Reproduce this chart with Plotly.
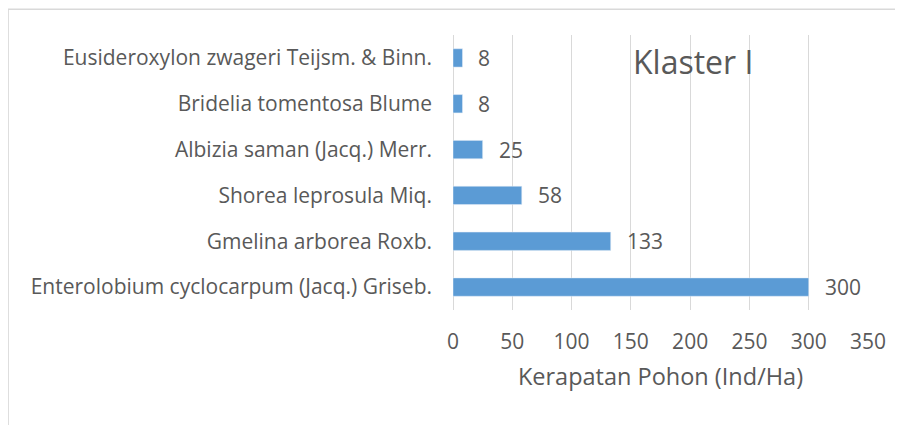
import plotly.graph_objects as go

species = [
    "Enterolobium cyclocarpum (Jacq.) Griseb.",
    "Gmelina arborea Roxb.",
    "Shorea leprosula Miq.",
    "Albizia saman (Jacq.) Merr.",
    "Bridelia tomentosa Blume",
    "Eusideroxylon zwageri Teijsm. & Binn.",
]
density = [300, 133, 58, 25, 8, 8]
x_ticks = [0, 50, 100, 150, 200, 250, 300, 350]

FONT = "Open Sans"
TXT = "#595959"
GRID = "#D9D9D9"

fig = go.Figure()
fig.add_trace(go.Bar(
    y=species, x=density, orientation="h",
    marker=dict(color="#5B9BD5"),
    hoverinfo="x+y",
))

for s, v in zip(species, density):
    fig.add_annotation(x=v, y=s, text=str(v), showarrow=False,
                       xanchor="left", xshift=14,
                       font=dict(family=FONT, size=21, color=TXT))

fig.add_annotation(x=0.578, y=0.902, xref="paper", yref="paper",
                   text="Klaster I", showarrow=False,
                   xanchor="center", yanchor="middle",
                   font=dict(family=FONT, size=32, color=TXT))

fig.add_shape(type="rect", xref="paper", yref="paper",
              x0=-1.072, x1=2.0, y0=-2.0, y1=1.094,
              line=dict(color=GRID, width=1.5), fillcolor="rgba(0,0,0,0)")

fig.update_layout(
    width=903, height=425,
    margin=dict(l=445, r=43, t=27, b=123),
    paper_bgcolor="white", plot_bgcolor="white",
    bargap=0.6, showlegend=False,
    font=dict(family=FONT, size=21, color=TXT),
    xaxis=dict(
        range=[0, 350], tickvals=x_ticks, showgrid=True, gridcolor=GRID,
        gridwidth=1, zeroline=True, zerolinecolor=GRID, zerolinewidth=1,
        showline=False, ticks="", ticklabelstandoff=17,
        tickfont=dict(family=FONT, size=21, color=TXT),
        title=dict(text="Kerapatan Pohon (Ind/Ha)", standoff=14,
                   font=dict(family=FONT, size=23.5, color=TXT)),
        fixedrange=True,
    ),
    yaxis=dict(
        showgrid=False, showline=False, ticks="", ticklabelstandoff=20,
        tickfont=dict(family=FONT, size=21, color=TXT),
        fixedrange=True,
    ),
)

fig.write_html("out.html")
